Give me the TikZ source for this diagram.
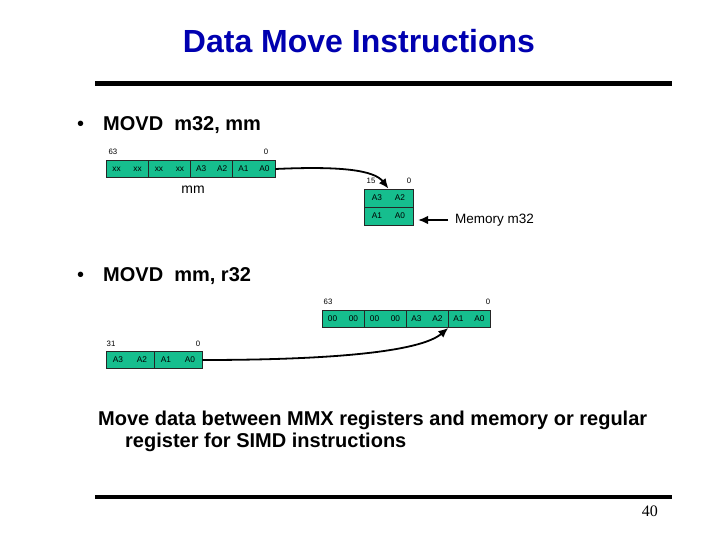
\documentclass[tikz,border=0pt]{standalone}
\usepackage{fontspec}
\setmainfont{Liberation Sans}
\newfontfamily\pagenumfont{Liberation Serif}
\usetikzlibrary{arrows.meta}
\definecolor{regteal}{RGB}{22,190,142}
\definecolor{titleblue}{RGB}{0,0,176}
\begin{document}
\begin{tikzpicture}[x=1pt,y=-1pt,
  cell/.style={draw=black!85, fill=regteal, line width=0.7pt, minimum height=17pt, inner sep=0pt, font=\fontsize{8.3}{9}\selectfont},
  bitlbl/.style={font=\fontsize{7.8}{9}\selectfont, inner sep=0pt},
  conn/.style={line width=1.8pt, -{Latex[length=10pt,width=8.5pt]}},
  bigtext/.style={font=\fontsize{20}{24}\selectfont\bfseries, anchor=base west, inner sep=0pt},
  rulestyle/.style={line width=4.5pt}]
\useasboundingbox (0,0) rectangle (720,540);

% title and rules
\node[font=\fontsize{32}{38}\selectfont\bfseries, text=titleblue, anchor=base] (title) at (359,53) {Data Move Instructions};
\draw[rulestyle] (95,83.5) -- (672,83.5);
\draw[rulestyle, line width=4pt] (95,497) -- (672,497);
\node[font=\pagenumfont\fontsize{16}{18}\selectfont, anchor=base east, inner sep=0pt] (pnum) at (658,516) {40};

% bullet 1
\node[bigtext, font=\fontsize{20}{24}\selectfont] (b1) at (77,131) {•};
\node[bigtext] (t1) at (103,131) {MOVD\ \ m32, mm};

% register mm (1)
\node[cell, minimum width=42.25pt] (ra) at (127.1,169) {\makebox[21pt]{xx}\makebox[21pt]{xx}};
\node[cell, minimum width=42.25pt] (rb) at (169.4,169) {\makebox[21pt]{xx}\makebox[21pt]{xx}};
\node[cell, minimum width=42.25pt] (rc) at (211.6,169) {\makebox[21pt]{A3}\makebox[21pt]{A2}};
\node[cell, minimum width=42.25pt] (rd) at (253.9,169) {\makebox[21pt]{A1}\makebox[21pt]{A0}};
\node[bitlbl] (l63a) at (113,152) {63};
\node[bitlbl] (l0a) at (266,152) {0};
\node[font=\fontsize{14}{16}\selectfont, inner sep=0pt] (mmlbl) at (193,190) {mm};

% memory
\node[cell, minimum width=49pt, minimum height=18pt] (mem1) at (388.5,198) {\makebox[23pt]{A3}\makebox[23pt]{A2}};
\node[cell, minimum width=49pt, minimum height=18pt] (mem2) at (388.5,216) {\makebox[23pt]{A1}\makebox[23pt]{A0}};
\node[bitlbl] (l15) at (371,181) {15};
\node[bitlbl] (l0m) at (409,181) {0};
\node[font=\fontsize{13.5}{16}\selectfont, anchor=west, inner sep=0pt] (memlbl) at (455,220) {Memory m32};
\coordinate (memtip) at (418,220);

\draw[conn] (rd.east) .. controls (340,166) and (374,170) .. (mem1.north);
\draw[conn] (memlbl.west) ++(-7,0) -- (memtip);

% bullet 2
\node[bigtext, font=\fontsize{20}{24}\selectfont] (b2) at (77,281) {•};
\node[bigtext] (t2) at (103,281) {MOVD\ \ mm, r32};

% register mm (2)
\node[cell, minimum width=42pt] (sa) at (343,319) {\makebox[21pt]{00}\makebox[21pt]{00}};
\node[cell, minimum width=42pt] (sb) at (385,319) {\makebox[21pt]{00}\makebox[21pt]{00}};
\node[cell, minimum width=42pt] (sc) at (427,319) {\makebox[21pt]{A3}\makebox[21pt]{A2}};
\node[cell, minimum width=42pt] (sd) at (469,319) {\makebox[21pt]{A1}\makebox[21pt]{A0}};
\node[bitlbl] (l63b) at (328,302) {63};
\node[bitlbl] (l0b) at (488,302) {0};

% register r32
\node[cell, minimum width=48pt] (qa) at (130,360) {\makebox[24pt]{A3}\makebox[24pt]{A2}};
\node[cell, minimum width=48pt] (qb) at (178,360) {\makebox[24pt]{A1}\makebox[24pt]{A0}};
\node[bitlbl] (l31) at (111,344) {31};
\node[bitlbl] (l0c) at (198,344) {0};

\draw[conn] (qb.east) .. controls (330,360) and (420,352) .. (sc.south east);

% bottom text
\node[bigtext] (m1) at (98,425) {Move data between MMX registers and memory or regular};
\node[bigtext] (m2) at (125,447) {register for SIMD instructions};
\end{tikzpicture}
\end{document}
